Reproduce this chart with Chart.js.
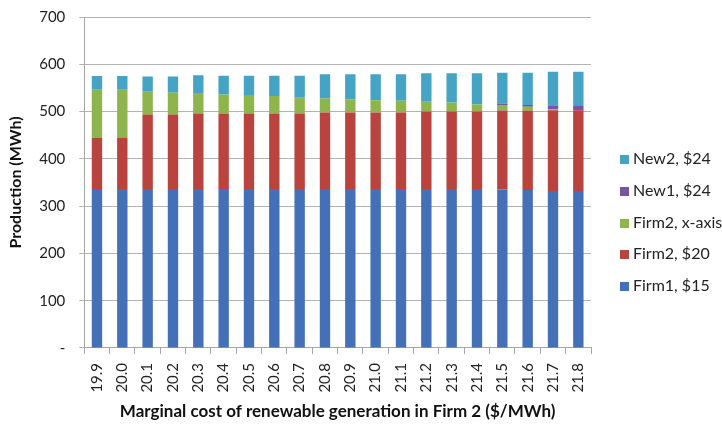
<!DOCTYPE html>
<html>
<head>
<meta charset="utf-8">
<script src="https://cdn.jsdelivr.net/npm/chart.js@4.4.1/dist/chart.umd.min.js"></script>
<style>
  body { margin: 0; background: #fff; }
  #wrap { position: relative; width: 722px; height: 426px; }
  #legend { position: absolute; left: 620px; top: 0; font-family: Lato, "Open Sans", sans-serif; font-size: 16px; color: #222; }
  .item { position: absolute; left: 0; white-space: nowrap; height: 20px; line-height: 20px; }
  .box { display: inline-block; width: 9px; height: 9px; margin-right: 4px; vertical-align: 0px; }
</style>
</head>
<body>
<div id="wrap">
  <canvas id="myChart" width="722" height="426"></canvas>
  <div id="legend"></div>
</div>
<script>
//  Categories and stacked production values (MWh)
const categories = ['19.9', '20.0', '20.1', '20.2', '20.3', '20.4', '20.5', '20.6', '20.7', '20.8',
                    '20.9', '21.0', '21.1', '21.2', '21.3', '21.4', '21.5', '21.6', '21.7', '21.8'];
const firm1 = [336, 336, 336, 336, 336, 336, 336, 336, 336, 336, 336, 336, 336, 336, 336, 336, 335, 334, 332, 332];
const firm2 = [108, 108, 158, 158, 160, 160, 160, 160, 160, 162, 162, 162, 162, 164, 164, 164, 167, 168, 171, 171];
const firm2x = [102, 102, 48, 46, 43, 40, 39, 37, 33, 30, 28, 26, 25, 21, 19, 15, 12, 8, 2, 0];
const new1 = [0, 0, 0, 0, 0, 0, 0, 0, 0, 0, 0, 0, 0, 0, 0, 0, 3, 4, 7, 9];
const new2 = [29, 29, 32, 34, 38, 40, 41, 43, 47, 51, 53, 55, 56, 60, 62, 66, 65, 68, 72, 72];
const yTicks = [0, 100, 200, 300, 400, 500, 600, 700];

const series = [
    { label: 'Firm1, $15', data: firm1, color: '#4470b8' },
    { label: 'Firm2, $20', data: firm2, color: '#b8433f' },
    { label: 'Firm2, x-axis', data: firm2x, color: '#8db54b' },
    { label: 'New1, $24', data: new1, color: '#7556a1' },
    { label: 'New2, $24', data: new2, color: '#45a4c4' }
];

const font = "Lato, 'Open Sans', sans-serif";

//  Side legend, top entry is the last series
const legendTops = [148, 180, 212, 243, 275];
series.slice().reverse().forEach((s, i) => {
    const el = document.createElement('div');
    el.className = 'item';
    el.style.top = legendTops[i] + 'px';
    el.innerHTML = '<span class="box" style="background:' + s.color + '"></span>' + s.label;
    document.getElementById('legend').appendChild(el);
});

const ctx = document.getElementById('myChart');
new Chart(ctx, {
    type: 'bar',
    data: {
        labels: categories,
        datasets: series.map(s => ({
            label: s.label,
            data: s.data,
            backgroundColor: s.color,
            borderWidth: 0,
            categoryPercentage: 1.0,
            barPercentage: 0.41
        }))
    },
    options: {
        responsive: false,
        animation: false,
        layout: { padding: { top: 0, right: 131, left: 0, bottom: 4 } },
        plugins: {
            legend: { display: false },
            tooltip: { enabled: false }
        },
        scales: {
            x: {
                stacked: true,
                grid: { drawOnChartArea: false, drawTicks: true, tickLength: 6, color: '#a6a6a6', offset: true },
                border: { color: '#a6a6a6' },
                ticks: { minRotation: 90, maxRotation: 90, color: '#222', font: { family: font, size: 15 }, padding: 9 },
                title: {
                    display: true,
                    text: 'Marginal cost of renewable generation in Firm 2 ($/MWh)',
                    color: '#111',
                    font: { family: font, size: 17, weight: 'bold' },
                    padding: { top: 0, bottom: 0 }
                }
            },
            y: {
                stacked: true,
                min: 0,
                max: 700,
                afterBuildTicks: axis => { axis.ticks = yTicks.map(v => ({ value: v })); },
                // tick padding would otherwise push the top of the plot down
                afterFit: axis => { axis.paddingTop = 17; },
                grid: { color: '#b3b3b3', tickLength: 5 },
                border: { color: '#a6a6a6' },
                ticks: {
                    color: '#222',
                    font: { family: font, size: 15 },
                    padding: 14,
                    callback: v => v === 0 ? '-' : v
                },
                title: {
                    display: true,
                    text: 'Production (MWh)',
                    color: '#111',
                    font: { family: font, size: 16, weight: 'bold' },
                    padding: { top: 6, bottom: 0 }
                }
            }
        }
    }
});
</script>
</body>
</html>
